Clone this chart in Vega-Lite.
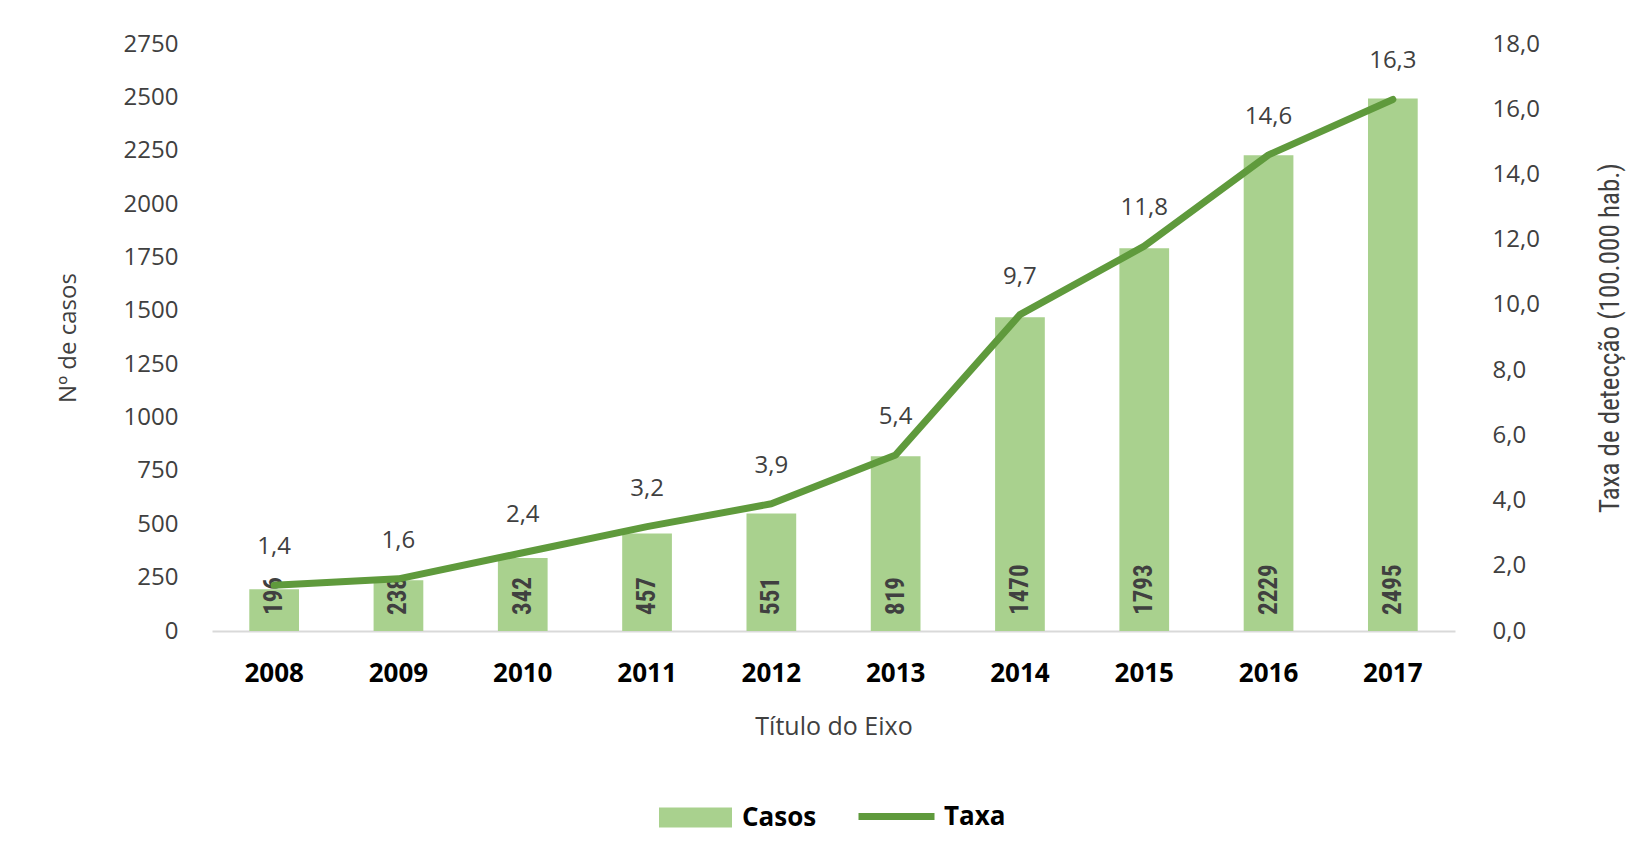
{
  "$schema": "https://vega.github.io/schema/vega-lite/v6.json",
  "autosize": "none",
  "width": 1243,
  "height": 587,
  "padding": {"left": 212, "top": 44, "right": 172, "bottom": 228},
  "background": "white",
  "config": {
    "view": {"stroke": null},
    "font": "Open Sans"
  },
  "data": {
    "values": [
      {"ano": "2008", "casos": 196, "taxa": 1.4},
      {"ano": "2009", "casos": 238, "taxa": 1.6},
      {"ano": "2010", "casos": 342, "taxa": 2.4},
      {"ano": "2011", "casos": 457, "taxa": 3.2},
      {"ano": "2012", "casos": 551, "taxa": 3.9},
      {"ano": "2013", "casos": 819, "taxa": 5.4},
      {"ano": "2014", "casos": 1470, "taxa": 9.7},
      {"ano": "2015", "casos": 1793, "taxa": 11.8},
      {"ano": "2016", "casos": 2229, "taxa": 14.6},
      {"ano": "2017", "casos": 2495, "taxa": 16.3}
    ]
  },
  "encoding": {
    "x": {
      "field": "ano",
      "type": "ordinal",
      "scale": {"paddingInner": 0.6, "paddingOuter": 0.3},
      "axis": {
        "title": "Título do Eixo",
        "titleFont": "Open Sans",
        "titleFontSize": 25,
        "titleFontWeight": "normal",
        "titleColor": "#404040",
        "titlePadding": 28,
        "labelAngle": 0,
        "labelFont": "Open Sans",
        "labelFontSize": 26,
        "labelFontWeight": "bold",
        "labelColor": "#000000",
        "labelPadding": 29,
        "ticks": false,
        "domainColor": "#d9d9d9",
        "domainWidth": 2,
        "grid": false
      }
    }
  },
  "layer": [
    {
      "layer": [
        {
          "mark": {"type": "bar"},
          "encoding": {
            "y": {
              "field": "casos",
              "type": "quantitative",
              "scale": {"domain": [0, 2750], "nice": false},
              "axis": {
                "title": "Nº de casos",
                "titleFont": "Open Sans",
                "titleFontSize": 24,
                "titleFontWeight": "normal",
                "titleColor": "#404040",
                "titlePadding": 43,
                "values": [0, 250, 500, 750, 1000, 1250, 1500, 1750, 2000, 2250, 2500, 2750],
                "format": "d",
                "labelFont": "Open Sans",
                "labelFontSize": 24,
                "labelColor": "#404040",
                "labelPadding": 34,
                "ticks": false,
                "domain": false,
                "grid": false,
                "orient": "left"
              }
            },
            "fill": {
              "datum": "Casos",
              "scale": {"range": ["#a9d18e"]},
              "legend": {
                "title": null,
                "orient": "none",
                "legendX": 447,
                "legendY": 737,
                "symbolType": "M-1,-0.274H1V0.274H-1Z",
                "symbolSize": 5329,
                "symbolStrokeWidth": 0,
                "labelFont": "Open Sans",
                "labelFontSize": 26,
                "labelFontWeight": "bold",
                "labelColor": "#000000",
                "labelOffset": 10
              }
            }
          }
        },
        {
          "mark": {
            "type": "text",
            "angle": 270,
            "align": "left",
            "baseline": "middle",
            "dx": 16,
            "font": "Liberation Sans Narrow, Roboto Condensed, Roboto",
            "fontSize": 25,
            "fontWeight": "bold",
            "color": "#404040"
          },
          "encoding": {
            "y": {"datum": 0, "type": "quantitative"},
            "text": {"field": "casos", "type": "quantitative", "format": "d"}
          }
        }
      ]
    },
    {
      "layer": [
        {
          "mark": {"type": "line", "strokeWidth": 7, "strokeCap": "round", "strokeJoin": "round"},
          "encoding": {
            "y": {
              "field": "taxa",
              "type": "quantitative",
              "scale": {"domain": [0, 18], "nice": false},
              "axis": {
                "title": "Taxa de detecção (100.000 hab.)",
                "titleAngle": 270,
                "titleBaseline": "top",
                "titleFont": "Liberation Sans Narrow, Roboto Condensed, Roboto",
                "titleFontSize": 27,
                "titleFontWeight": "normal",
                "titleColor": "#404040",
                "titlePadding": 58,
                "values": [0, 2, 4, 6, 8, 10, 12, 14, 16, 18],
                "labelExpr": "replace(format(datum.value, '.1f'), '.', ',')",
                "labelFont": "Open Sans",
                "labelFontSize": 24,
                "labelColor": "#404040",
                "labelPadding": 37,
                "ticks": false,
                "domain": false,
                "grid": false,
                "orient": "right"
              }
            },
            "stroke": {
              "datum": "Taxa",
              "scale": {"range": ["#5f9a3c"]},
              "legend": {
                "title": null,
                "orient": "none",
                "legendX": 643,
                "legendY": 731,
                "symbolType": "stroke",
                "symbolSize": 5776,
                "symbolStrokeWidth": 7,
                "labelFont": "Open Sans",
                "labelFontSize": 26,
                "labelFontWeight": "bold",
                "labelColor": "#000000",
                "labelOffset": 6
              }
            }
          }
        },
        {
          "mark": {
            "type": "text",
            "align": "center",
            "baseline": "middle",
            "dy": -38,
            "font": "Open Sans",
            "fontSize": 24,
            "color": "#404040"
          },
          "encoding": {
            "y": {"field": "taxa", "type": "quantitative"},
            "text": {"field": "taxa_label", "type": "nominal"}
          },
          "transform": [
            {"calculate": "replace(format(datum.taxa, '.1f'), '.', ',')", "as": "taxa_label"}
          ]
        }
      ]
    }
  ],
  "resolve": {"scale": {"y": "independent", "fill": "independent", "stroke": "independent"}}
}
